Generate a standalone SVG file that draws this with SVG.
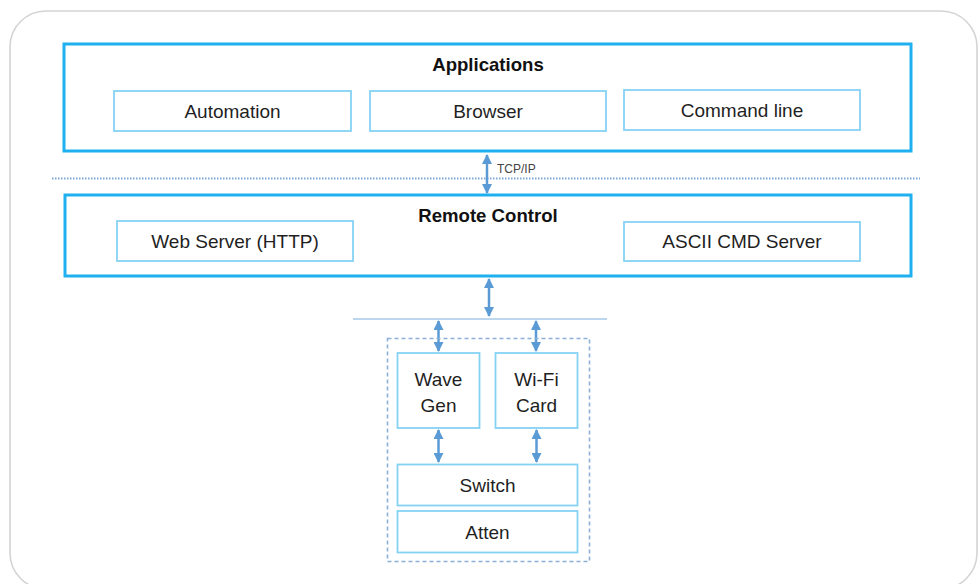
<svg xmlns="http://www.w3.org/2000/svg" width="980" height="584" viewBox="0 0 980 584">
<defs>
<marker id="ah" viewBox="0 0 10 10" refX="9" refY="5" markerWidth="4" markerHeight="4" orient="auto-start-reverse" markerUnits="strokeWidth">
<path d="M0,0 L10,5 L0,10 z" fill="#5b9bd5"/>
</marker>
<style>
.frame{fill:#fff;stroke:#d4d4d4;stroke-width:1.6}
.outer{fill:#fff;stroke:#1fb0ef;stroke-width:3}
.inner{fill:#fff;stroke:#86d2f3;stroke-width:1.8}
.title{font-family:"Liberation Sans",Arial,sans-serif;font-weight:bold;font-size:18.6px;fill:#111;text-anchor:middle}
.lbl{font-family:"Liberation Sans",Arial,sans-serif;font-size:19px;fill:#1f1f1f;text-anchor:middle}
.small{font-family:"Liberation Sans",Arial,sans-serif;font-size:12px;fill:#444}
.arr{stroke:#5b9bd5;stroke-width:2.5;fill:none;marker-start:url(#ah);marker-end:url(#ah)}
</style>
</defs>
<rect class="frame" x="10" y="11" width="967" height="578" rx="36" ry="36"/>
<g id="connectors">
<line x1="52" y1="178.5" x2="920" y2="178.5" stroke="#7fa9dc" stroke-width="2" stroke-dasharray="1.5 1.5"/>
<line x1="353" y1="319" x2="607" y2="319" stroke="#bcd6ee" stroke-width="2"/>
<line class="arr" x1="487" y1="155" x2="487" y2="193"/>
<text class="small" x="497" y="173">TCP/IP</text>
<line class="arr" x1="489" y1="279" x2="489" y2="316"/>
<line class="arr" x1="438.5" y1="321" x2="438.5" y2="351"/>
<line class="arr" x1="536" y1="321" x2="536" y2="351"/>
<line class="arr" x1="438.5" y1="430" x2="438.5" y2="462"/>
<line class="arr" x1="536.5" y1="430" x2="536.5" y2="462"/>
</g>
<g id="applications">
<rect class="outer" x="64" y="44" width="847" height="107"/>
<text class="title" x="488" y="71">Applications</text>
</g>
<g id="automation">
<rect class="inner" x="114" y="91" width="237" height="40"/>
<text class="lbl" x="232.5" y="118">Automation</text>
</g>
<g id="browser">
<rect class="inner" x="370" y="91" width="236" height="40"/>
<text class="lbl" x="488" y="118">Browser</text>
</g>
<g id="commandline">
<rect class="inner" x="624" y="90" width="236" height="40"/>
<text class="lbl" x="742" y="117">Command line</text>
</g>
<g id="remotecontrol">
<rect class="outer" x="65" y="195" width="846" height="81"/>
<text class="title" x="488" y="222">Remote Control</text>
</g>
<g id="webserver">
<rect class="inner" x="117" y="221" width="236" height="40"/>
<text class="lbl" x="235" y="248">Web Server (HTTP)</text>
</g>
<g id="asciicmd">
<rect class="inner" x="624" y="222" width="236" height="39"/>
<text class="lbl" x="742" y="248">ASCII CMD Server</text>
</g>
<g id="hwgroup">
<rect x="387.5" y="338.5" width="202" height="223" fill="none" stroke="#8cb0d8" stroke-width="1.6" stroke-dasharray="4 3"/>
</g>
<g id="wavegen">
<rect class="inner" x="397.5" y="353" width="82" height="75"/>
<text class="lbl" x="438.5" y="386">Wave</text>
<text class="lbl" x="438.5" y="412">Gen</text>
</g>
<g id="wificard">
<rect class="inner" x="495.5" y="353" width="82" height="75"/>
<text class="lbl" x="536.5" y="386">Wi-Fi</text>
<text class="lbl" x="536.5" y="412">Card</text>
</g>
<g id="switch">
<rect class="inner" x="397.5" y="464.5" width="180" height="41"/>
<text class="lbl" x="487.5" y="492">Switch</text>
</g>
<g id="atten">
<rect class="inner" x="397.5" y="511" width="180" height="41.5"/>
<text class="lbl" x="487.5" y="539">Atten</text>
</g>
</svg>
